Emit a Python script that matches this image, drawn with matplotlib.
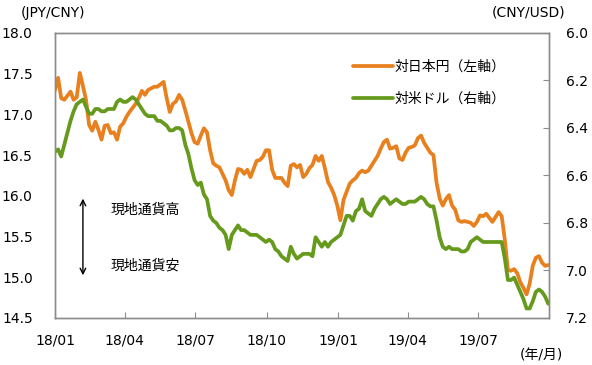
import matplotlib
matplotlib.use('Agg')
import matplotlib.pyplot as plt
import numpy as np
import pandas as pd

plt.rcParams['font.family'] = ['DejaVu Sans', 'Noto Sans CJK JP']

# sampling dates (every 4 days)
dates = pd.date_range('2018-01-01', periods=160, freq='4D')

# JPY per CNY (left axis)
jpy_cny = [
    17.30, 17.45, 17.20, 17.18, 17.23, 17.28, 17.18, 17.21, 17.51, 17.35,
    17.18, 16.87, 16.80, 16.91, 16.81, 16.69, 16.86, 16.87, 16.77, 16.78,
    16.69, 16.85, 16.89, 16.97, 17.03, 17.08, 17.13, 17.20, 17.29, 17.24,
    17.30, 17.32, 17.34, 17.34, 17.37, 17.40, 17.20, 17.03, 17.13, 17.16,
    17.24, 17.18, 17.05, 16.91, 16.77, 16.66, 16.64, 16.74, 16.83, 16.78,
    16.56, 16.40, 16.37, 16.35, 16.27, 16.19, 16.07, 16.01, 16.19, 16.33,
    16.32, 16.27, 16.32, 16.23, 16.33, 16.43, 16.44, 16.48, 16.56, 16.56,
    16.32, 16.22, 16.22, 16.22, 16.16, 16.12, 16.37, 16.39, 16.35, 16.38,
    16.23, 16.27, 16.34, 16.38, 16.49, 16.43, 16.49, 16.34, 16.17, 16.10,
    16.01, 15.88, 15.70, 15.95, 16.05, 16.15, 16.19, 16.22, 16.28, 16.31,
    16.29, 16.31, 16.37, 16.43, 16.49, 16.58, 16.66, 16.69, 16.58, 16.59,
    16.61, 16.46, 16.44, 16.53, 16.59, 16.60, 16.62, 16.71, 16.74, 16.65,
    16.59, 16.53, 16.50, 16.16, 15.97, 15.88, 15.96, 16.01, 15.88, 15.83,
    15.70, 15.68, 15.69, 15.68, 15.67, 15.63, 15.68, 15.76, 15.75, 15.78,
    15.73, 15.68, 15.74, 15.80, 15.75, 15.46, 15.09, 15.08, 15.10, 15.05,
    14.94, 14.87, 14.79, 14.92, 15.14, 15.24, 15.26, 15.18, 15.14, 15.15,
]

# CNY per USD (right axis, inverted)
cny_usd = [
    6.50, 6.49, 6.52, 6.47, 6.42, 6.37, 6.33, 6.30, 6.29, 6.28,
    6.31, 6.34, 6.34, 6.32, 6.32, 6.33, 6.33, 6.32, 6.32, 6.32,
    6.29, 6.28, 6.29, 6.29, 6.28, 6.27, 6.28, 6.30, 6.32, 6.34,
    6.35, 6.35, 6.35, 6.37, 6.37, 6.38, 6.39, 6.41, 6.41, 6.40,
    6.40, 6.41, 6.47, 6.51, 6.57, 6.62, 6.64, 6.63, 6.68, 6.70,
    6.77, 6.79, 6.80, 6.82, 6.83, 6.85, 6.91, 6.85, 6.83, 6.81,
    6.83, 6.83, 6.84, 6.85, 6.85, 6.85, 6.86, 6.87, 6.88, 6.87,
    6.88, 6.91, 6.92, 6.94, 6.95, 6.96, 6.90, 6.93, 6.95, 6.94,
    6.93, 6.93, 6.93, 6.94, 6.86, 6.88, 6.90, 6.88, 6.90, 6.88,
    6.87, 6.86, 6.85, 6.81, 6.77, 6.77, 6.79, 6.75, 6.74, 6.70,
    6.75, 6.76, 6.77, 6.74, 6.72, 6.70, 6.69, 6.70, 6.72, 6.71,
    6.70, 6.71, 6.72, 6.72, 6.71, 6.71, 6.71, 6.70, 6.69, 6.70,
    6.72, 6.73, 6.73, 6.79, 6.86, 6.90, 6.91, 6.90, 6.91, 6.91,
    6.91, 6.92, 6.92, 6.91, 6.88, 6.87, 6.86, 6.87, 6.88, 6.88,
    6.88, 6.88, 6.88, 6.88, 6.88, 6.95, 7.04, 7.04, 7.03, 7.06,
    7.09, 7.12, 7.16, 7.16, 7.13, 7.09, 7.08, 7.09, 7.11, 7.14,
]

tick_dates = ['2018-01-01', '2018-04-01', '2018-07-01', '2018-10-01',
              '2019-01-01', '2019-04-01', '2019-07-01']
tick_labels = ['18/01', '18/04', '18/07', '18/10', '19/01', '19/04', '19/07']

orange = '#E8801E'
green = '#669A1C'
spine_col = '#8C8C8C'

fig = plt.figure(figsize=(5.92, 3.65), dpi=100)
ax = fig.add_axes([0.0929, 0.1288, 0.8345, 0.7808])
ax2 = ax.twinx()

l1, = ax.plot(dates, jpy_cny, color=orange, lw=2.7, solid_capstyle='round',
              solid_joinstyle='round', label='対日本円（左軸）')
l2, = ax2.plot(dates, cny_usd, color=green, lw=2.7, solid_capstyle='round',
               solid_joinstyle='round', label='対米ドル（右軸）')

ax.set_xlim(pd.Timestamp('2018-01-01'), pd.Timestamp('2019-09-30'))
ax.set_ylim(14.5, 18.0)
ax.set_yticks(np.arange(14.5, 18.01, 0.5))
ax.yaxis.set_major_formatter(matplotlib.ticker.FormatStrFormatter('%.1f'))
ax2.set_ylim(7.2, 6.0)
ax2.set_yticks(np.arange(6.0, 7.21, 0.2))
ax2.yaxis.set_major_formatter(matplotlib.ticker.FormatStrFormatter('%.1f'))

ax.set_xticks(pd.to_datetime(tick_dates))
ax.set_xticklabels(tick_labels)

for a in (ax, ax2):
    for s in a.spines.values():
        s.set_color(spine_col)
        s.set_linewidth(1.0)

ax.tick_params(axis='y', length=0, pad=16, labelsize=10, colors='black')
ax.tick_params(axis='x', direction='in', length=4, color=spine_col, pad=11, labelsize=10)
ax2.tick_params(axis='y', direction='in', length=4, color=spine_col, pad=12, labelsize=10)

ax.legend(handles=[l1, l2], loc='upper left', bbox_to_anchor=(0.578, 0.95),
          frameon=False, fontsize=10, handlelength=2.9, handletextpad=0.1,
          labelspacing=1.3)

fig.text(0.035, 0.965, '(JPY/CNY)', fontsize=10, va='center', ha='left')
fig.text(0.83, 0.965, '(CNY/USD)', fontsize=10, va='center', ha='left')
fig.text(0.878, 0.027, '(年/月)', fontsize=10, va='center', ha='left')

# currency direction arrow
ax.annotate('', xy=(pd.Timestamp('2018-02-06'), 14.99),
            xytext=(pd.Timestamp('2018-02-06'), 16.0),
            arrowprops=dict(arrowstyle='<->', color='black', lw=1.0))
ax.text(pd.Timestamp('2018-03-14'), 15.83, '現地通貨高', fontsize=10, va='center')
ax.text(pd.Timestamp('2018-03-14'), 15.15, '現地通貨安', fontsize=10, va='center')

fig.savefig('out.png', dpi=100)
